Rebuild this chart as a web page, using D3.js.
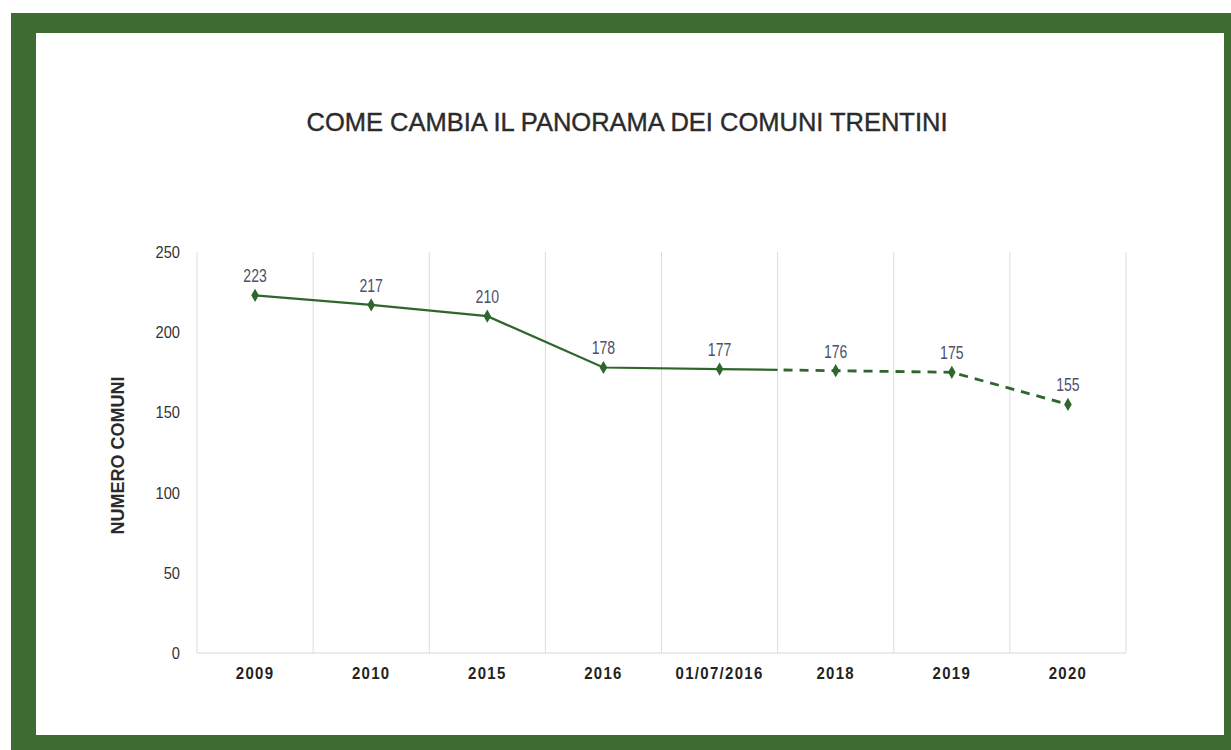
<!DOCTYPE html>
<html lang="it">
<head>
<meta charset="UTF-8">
<title>Comuni trentini</title>
<style>
    body { margin: 0; background: #fff; }
    text { font-family: "Liberation Sans", Arial, sans-serif; }
    .yAxis text { font-size: 17px; fill: #333; }
    .xAxis text { font-size: 17px; fill: #222; font-weight: bold; letter-spacing: 1.5px; }
    .lbl { font-size: 18px; fill: #4f4f6c; text-anchor: middle; }
</style>
</head>
<body>
<script src="https://cdn.jsdelivr.net/npm/d3@7/dist/d3.min.js"></script>
<script>
// data
let categories = ['2009', '2010', '2015', '2016', '01/07/2016', '2018', '2019', '2020'];
let comuni = [223, 217, 210, 178, 177, 176, 175, 155];
let yTicks = [0, 50, 100, 150, 200, 250];
let lastSolid = 4; // from here on the line is dashed

let W = 1231, H = 750;
let green = '#3e6b31', lineGreen = '#2f662c';

// squeeze text horizontally to mimic a narrow font
function condense(sel, k) {
    sel.each(function () {
        let len = this.getComputedTextLength();
        d3.select(this)
            .attr('textLength', len * k)
            .attr('lengthAdjust', 'spacingAndGlyphs');
    });
}

let svg = d3.select('body').append('svg')
    .attr('width', W)
    .attr('height', H);

// frame
svg.append('rect').attr('x', 0).attr('y', 0).attr('width', W).attr('height', H).attr('fill', '#fff');
svg.append('rect').attr('x', 11).attr('y', 13).attr('width', W - 11).attr('height', H - 13).attr('fill', green);
svg.append('rect').attr('x', 36).attr('y', 33).attr('width', 1188).attr('height', 702).attr('fill', '#fff');

svg.append('text')
    .attr('x', 627).attr('y', 131)
    .attr('text-anchor', 'middle')
    .attr('font-size', 26)
    .attr('fill', '#2b2b2b')
    .attr('stroke', '#2b2b2b')
    .attr('stroke-width', 0.4)
    .attr('textLength', 641)
    .attr('lengthAdjust', 'spacingAndGlyphs')
    .text('COME CAMBIA IL PANORAMA DEI COMUNI TRENTINI');

let pLeft = 197, pRight = 1126, pTop = 252, pBottom = 653;

let x = d3.scaleBand().domain(categories).range([pLeft, pRight]).padding(0);
let y = d3.scaleLinear().domain([0, 250]).range([pBottom, pTop]);

// vertical grid lines at band edges
let edges = categories.map(c => x(c)).concat([pRight]);
svg.selectAll('.vgrid')
    .data(edges)
    .enter()
    .append('line')
    .attr('class', 'vgrid')
    .attr('x1', d => d).attr('x2', d => d)
    .attr('y1', pTop).attr('y2', pBottom)
    .attr('stroke', '#dcdcdc')
    .attr('stroke-width', 1);

svg.append('line')
    .attr('x1', pLeft).attr('x2', pRight)
    .attr('y1', pBottom).attr('y2', pBottom)
    .attr('stroke', '#d6d6d6');

let yAxis = svg.append('g')
    .attr('class', 'yAxis')
    .attr('transform', `translate(${pLeft},0)`)
    .call(d3.axisLeft(y).tickValues(yTicks).tickSize(0).tickPadding(17));
yAxis.select('.domain').remove();
yAxis.selectAll('text').call(condense, 0.86);

let xAxis = svg.append('g')
    .attr('class', 'xAxis')
    .attr('transform', `translate(0,${pBottom})`)
    .call(d3.axisBottom(x).tickSize(0).tickPadding(14));
xAxis.select('.domain').remove();
xAxis.selectAll('text').call(condense, 0.88);

svg.append('text')
    .attr('transform', `translate(124,${(pTop + pBottom) / 2 + 3}) rotate(-90)`)
    .attr('text-anchor', 'middle')
    .attr('font-size', 18)
    .attr('font-weight', 'bold')
    .attr('fill', '#2b2b2b')
    .attr('textLength', 158)
    .attr('lengthAdjust', 'spacingAndGlyphs')
    .text('NUMERO COMUNI');

// line, split into solid and dashed parts at the band edge
let cx = c => x(c) + x.bandwidth() / 2;
let split = x(categories[lastSolid + 1]);
let defs = svg.append('defs');
defs.append('clipPath').attr('id', 'solidClip')
    .append('rect').attr('x', 0).attr('y', 0).attr('width', split).attr('height', H);
defs.append('clipPath').attr('id', 'dashClip')
    .append('rect').attr('x', split).attr('y', 0).attr('width', W - split).attr('height', H);

let pts = categories.map((c, i) => [cx(c), y(comuni[i])]);
let line = d3.line();

svg.append('path')
    .attr('d', line(pts))
    .attr('clip-path', 'url(#solidClip)')
    .attr('fill', 'none')
    .attr('stroke', lineGreen)
    .attr('stroke-width', 2.2);

svg.append('path')
    .attr('d', line(pts.slice(lastSolid)))
    .attr('clip-path', 'url(#dashClip)')
    .attr('fill', 'none')
    .attr('stroke', lineGreen)
    .attr('stroke-width', 2.8)
    .attr('stroke-dasharray', '9,7');

let diamond = d3.symbol().type(d3.symbolDiamond).size(50);
svg.selectAll('.pt')
    .data(pts)
    .enter()
    .append('path')
    .attr('class', 'pt')
    .attr('d', diamond)
    .attr('transform', d => `translate(${d[0]},${d[1]})`)
    .attr('fill', lineGreen);

svg.selectAll('.lbl')
    .data(categories)
    .enter()
    .append('text')
    .attr('class', 'lbl')
    .attr('x', d => cx(d))
    .attr('y', (d, i) => y(comuni[i]) - 13)
    .text((d, i) => comuni[i])
    .call(condense, 0.78);
</script>
</body>
</html>
